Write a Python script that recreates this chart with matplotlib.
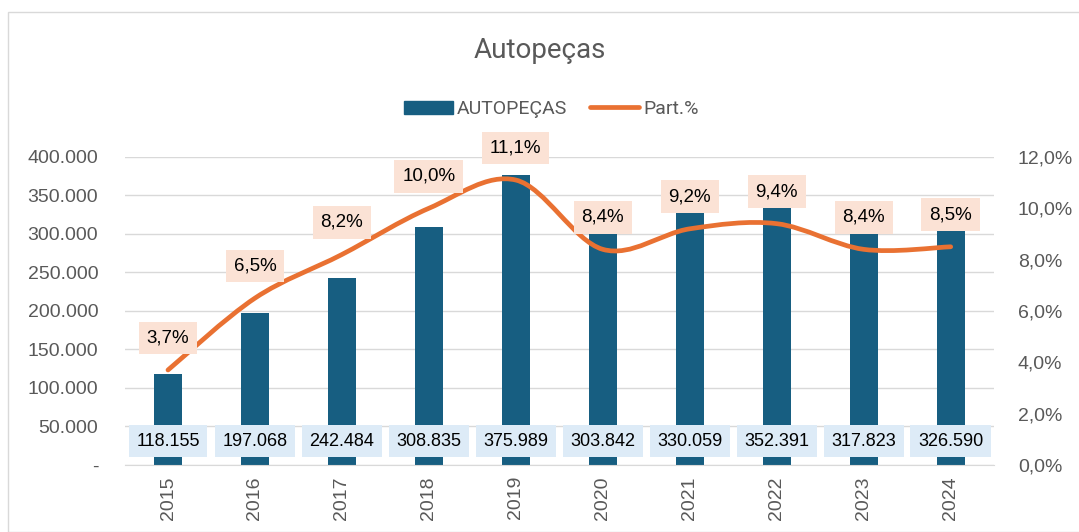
import matplotlib.pyplot as plt
from matplotlib.path import Path
from matplotlib.patches import PathPatch, Rectangle
from matplotlib.lines import Line2D
from matplotlib.ticker import FuncFormatter, MultipleLocator

plt.rcParams['font.family'] = ['Liberation Sans', 'DejaVu Sans']

anos = ['2015', '2016', '2017', '2018', '2019', '2020', '2021', '2022', '2023', '2024']
autopecas = [118155, 197068, 242484, 308835, 375989, 303842, 330059, 352391, 317823, 326590]
part = [3.7, 6.5, 8.2, 10.0, 11.1, 8.4, 9.2, 9.4, 8.4, 8.5]

azul = '#175E81'
laranja = '#E97132'
cinza = '#595959'

fig = plt.figure(figsize=(10.79, 5.32), dpi=100)
fig.patches.append(Rectangle((0.007, 0.0), 0.995, 0.977, transform=fig.transFigure,
                             fill=False, edgecolor='#D9D9D9', linewidth=1))
ax = fig.add_axes([0.1154, 0.126, 0.806, 0.579])
x = list(range(len(anos)))

ax.bar(x, autopecas, width=0.32, color=azul, zorder=2)
ax.set_ylim(0, 400000)
ax.set_xlim(-0.5, len(anos) - 0.5)
ax.yaxis.set_major_locator(MultipleLocator(50000))

def fmt_mil(v, pos):
    if v == 0:
        return '-'
    return f'{int(v):,}'.replace(',', '.')

ax.yaxis.set_major_formatter(FuncFormatter(fmt_mil))
ax.grid(axis='y', color='#D9D9D9', linewidth=1, zorder=0)
ax.set_axisbelow(True)
for s in ['top', 'left', 'right']:
    ax.spines[s].set_visible(False)
ax.spines['bottom'].set_color('#D9D9D9')
ax.tick_params(axis='both', length=0, labelsize=14, labelcolor=cinza)
ax.tick_params(axis='y', pad=19)
ax.tick_params(axis='x', pad=8)
ax.set_xticks(x)
ax.set_xticklabels(anos, rotation=90)

ax2 = ax.twinx()
ax2.set_ylim(0, 12)
ax2.yaxis.set_major_locator(MultipleLocator(2))
ax2.yaxis.set_major_formatter(FuncFormatter(lambda v, p: f'{v:.1f}%'.replace('.', ',')))
for s in ax2.spines.values():
    s.set_visible(False)
ax2.tick_params(axis='y', length=0, labelsize=14, labelcolor=cinza, pad=17)

# linha suavizada (Catmull-Rom como segmentos Bezier cubicos)
pts = list(zip(x, part))
verts = [pts[0]]
codes = [Path.MOVETO]
for i in range(len(pts) - 1):
    p0 = pts[i - 1] if i > 0 else pts[i]
    p1 = pts[i]
    p2 = pts[i + 1]
    p3 = pts[i + 2] if i + 2 < len(pts) else pts[i + 1]
    c1 = (p1[0] + (p2[0] - p0[0]) / 6, p1[1] + (p2[1] - p0[1]) / 6)
    c2 = (p2[0] - (p3[0] - p1[0]) / 6, p2[1] - (p3[1] - p1[1]) / 6)
    verts += [c1, c2, p2]
    codes += [Path.CURVE4] * 3
ax2.add_patch(PathPatch(Path(verts, codes), facecolor='none', edgecolor=laranja,
                        linewidth=3.4, capstyle='round', zorder=3))

for xi, v in zip(x, autopecas):
    ax.text(xi, 0.0765 * 400000, f'{v:,}'.replace(',', '.'), ha='center', va='center',
            fontsize=13, color='black', zorder=5,
            bbox=dict(boxstyle='square,pad=0.42', facecolor='#DDEBF7', edgecolor='none'))

for xi, v in zip(x, part):
    ax2.annotate(f'{v:.1f}%'.replace('.', ','), (xi, v), xytext=(0, 32),
                 textcoords='offset pixels', ha='center', va='center',
                 fontsize=13.5, color='black', zorder=5,
                 bbox=dict(boxstyle='square,pad=0.42', facecolor='#FBE2D5', edgecolor='none'))

fig.text(0.5, 0.905, 'Autopeças', ha='center', va='center', fontsize=20, color=cinza,
         family=['Roboto', 'DejaVu Sans'])

handles = [Rectangle((0, 0), 1, 1, color=azul),
           Line2D([0], [0], color=laranja, linewidth=3.4, solid_capstyle='round')]
fig.legend(handles, ['AUTOPEÇAS', 'Part.%'], loc='center', bbox_to_anchor=(0.511, 0.795),
           ncol=2, frameon=False, labelcolor=cinza,
           prop={'family': ['Roboto', 'DejaVu Sans'], 'size': 14},
           handlelength=2.5, handleheight=0.65, columnspacing=1.2, handletextpad=0.2)

fig.savefig('out.png', dpi=100)
